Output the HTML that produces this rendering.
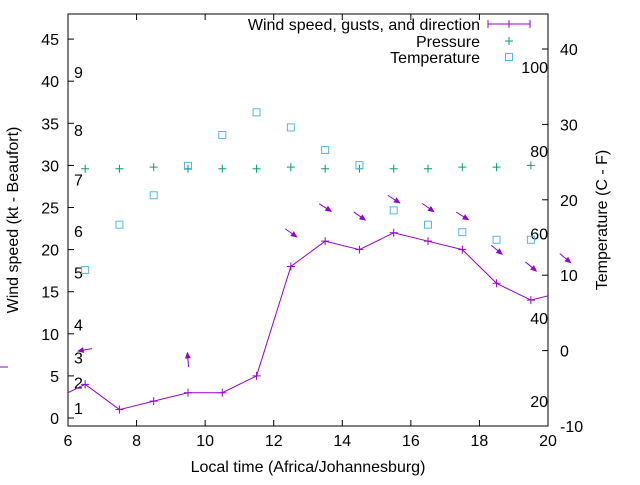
<!DOCTYPE html>
<html><head><meta charset="utf-8"><style>
body{margin:0;background:#fff}
svg text{font-family:"Liberation Sans",sans-serif;font-size:16px;fill:#000}
</style></head><body>
<svg id="c" width="640" height="480" xmlns="http://www.w3.org/2000/svg"></svg>
<script>
const hours=[5.5,6.5,7.5,8.5,9.5,10.5,11.5,12.5,13.5,14.5,15.5,16.5,17.5,18.5,19.5,20.5];
const windSpeed=[2,4,1,2,3,3,5,18,21,20,22,21,20,16,14,15];
const gustHours=[6.5,9.5,12.5,13.5,14.5,15.5,16.5,17.5,18.5,19.5,20.5];
const gustSpeed=[8.1,6.9,22,25,24,26,25,24,20,18,19];
const gustDir=[80,175,305,302,305,302,305,302,310,310,310];
const pressHours=[6.5,7.5,8.5,9.5,10.5,11.5,12.5,13.5,14.5,15.5,16.5,17.5,18.5,19.5];
const pressure=[29.6,29.6,29.8,29.6,29.6,29.6,29.8,29.6,29.6,29.6,29.6,29.8,29.8,30.0];
const tempC=[10.7,16.7,20.6,24.5,28.6,31.6,29.6,26.6,24.6,18.6,16.7,15.7,14.7,14.7];
const xTicks=[6,8,10,12,14,16,18,20];
const yTicks=[0,5,10,15,20,25,30,35,40,45];
const y2Ticks=[-10,0,10,20,30,40];
const beaufort=[[1,1.2],[2,4.2],[3,7.2],[4,11.1],[5,17.3],[6,22.2],[7,28.3],[8,34.2],[9,41.1]];
const fahr=[[100,37.6],[80,26.5],[60,15.5],[40,4.3],[20,-6.7]];

const L=68,R=548,T=14,B=426;
const X=h=>L+(h-6)/14*(R-L);
const Y=v=>418-v*8.42;
const Y2=v=>350.6-v*7.54;
const svg=document.getElementById('c');
const NS='http://www.w3.org/2000/svg';
function mk(tag,a,parent){const e=document.createElementNS(NS,tag);for(const k in a)e.setAttribute(k,a[k]);(parent||svg).appendChild(e);return e;}
function txt(s,x,y,anchor,parent){const t=mk('text',{x:x,y:y,'text-anchor':anchor||'start'},parent);t.textContent=s;return t;}
const defs=mk('defs',{});const cp=mk('clipPath',{id:'clip'},defs);mk('rect',{x:L,y:T,width:R-L,height:B-T},cp);

const box=mk('rect',{x:L,y:T,width:R-L,height:B-T,fill:'none',stroke:'#000','stroke-width':1});


xTicks.forEach(v=>{const x=X(v);mk('line',{x1:x,y1:B,x2:x,y2:B-6,stroke:'#000'});mk('line',{x1:x,y1:T,x2:x,y2:T+6,stroke:'#000'});
 const t=txt(String(v),x,446,'middle');});
yTicks.forEach(v=>{const y=Y(v);mk('line',{x1:L,y1:y,x2:L+6,y2:y,stroke:'#000'});
 const t=txt(String(v),L-9,y+6,'end');});
y2Ticks.forEach(v=>{const y=Y2(v);mk('line',{x1:R,y1:y,x2:R-6,y2:y,stroke:'#000'});
 const t=txt(String(v),560,y+6,'start');});
beaufort.forEach(b=>{const t=txt(String(b[0]),74,Y(b[1])+6,'start');});
fahr.forEach(f=>{const t=txt(String(f[0]),548,Y2(f[1])+6,'end');});

let t=txt('Local time (Africa/Johannesburg)',308,472,'middle');
t=txt('Wind speed (kt - Beaufort)',0,0,'middle');t.setAttribute('transform','translate(18,220) rotate(-90)');
t=txt('Temperature (C - F)',0,0,'middle');t.setAttribute('transform','translate(607,220) rotate(-90)');
mk('line',{x1:0,y1:367,x2:8,y2:367,stroke:'#9400d3'});

const g=mk('g',{'clip-path':'url(#clip)'});
const PUR='#9400d3',GRN='#009e73',BLU='#56b4e9';
const wl=mk('polyline',{points:hours.map((h,i)=>X(h)+','+Y(windSpeed[i])).join(' '),fill:'none',stroke:PUR,'stroke-width':1},g);

hours.forEach((h,i)=>{const x=X(h),y=Y(windSpeed[i]);const p=mk('path',{d:`M${x-4},${y}h8M${x},${y-4}v8`,stroke:PUR},g);
 });
gustHours.forEach((h,i)=>{const cx=X(h),cy=Y(gustSpeed[i]);const a=(gustDir[i]+180)*Math.PI/180;
 const dx=Math.sin(a)*7,dy=-Math.cos(a)*7;const hx=cx+dx,hy=cy+dy;const ux=dx/7,uy=dy/7;
 const grp=mk('g',{});
 mk('line',{x1:cx-dx,y1:cy-dy,x2:hx,y2:hy,stroke:PUR},grp);
 const bx=hx-ux*5,by=hy-uy*5;
 mk('polygon',{points:`${hx},${hy} ${bx-uy*2.2},${by+ux*2.2} ${bx+uy*2.2},${by-ux*2.2}`,fill:PUR,stroke:PUR},grp);});
pressHours.forEach((h,i)=>{const x=X(h),y=Y(pressure[i]);const p=mk('path',{d:`M${x-4},${y}h8M${x},${y-4}v8`,stroke:GRN},g);
 });
pressHours.forEach((h,i)=>{const x=X(h),y=Y2(tempC[i]);const r=mk('rect',{x:x-3.5,y:y-3.5,width:7,height:7,fill:'none',stroke:BLU},g);
 });

const lg=mk('g',{});
txt('Wind speed, gusts, and direction',480,30,'end',lg);
mk('path',{d:'M488,24h42M509,20v8M488,20v8M530,20v8',stroke:PUR,fill:'none'},lg);
txt('Pressure',480,47,'end',lg);mk('path',{d:'M505,41h8M509,37v8',stroke:GRN},lg);
txt('Temperature',480,63,'end',lg);mk('rect',{x:505.5,y:53.5,width:7,height:7,fill:'none',stroke:BLU},lg);
</script>
</body></html>
